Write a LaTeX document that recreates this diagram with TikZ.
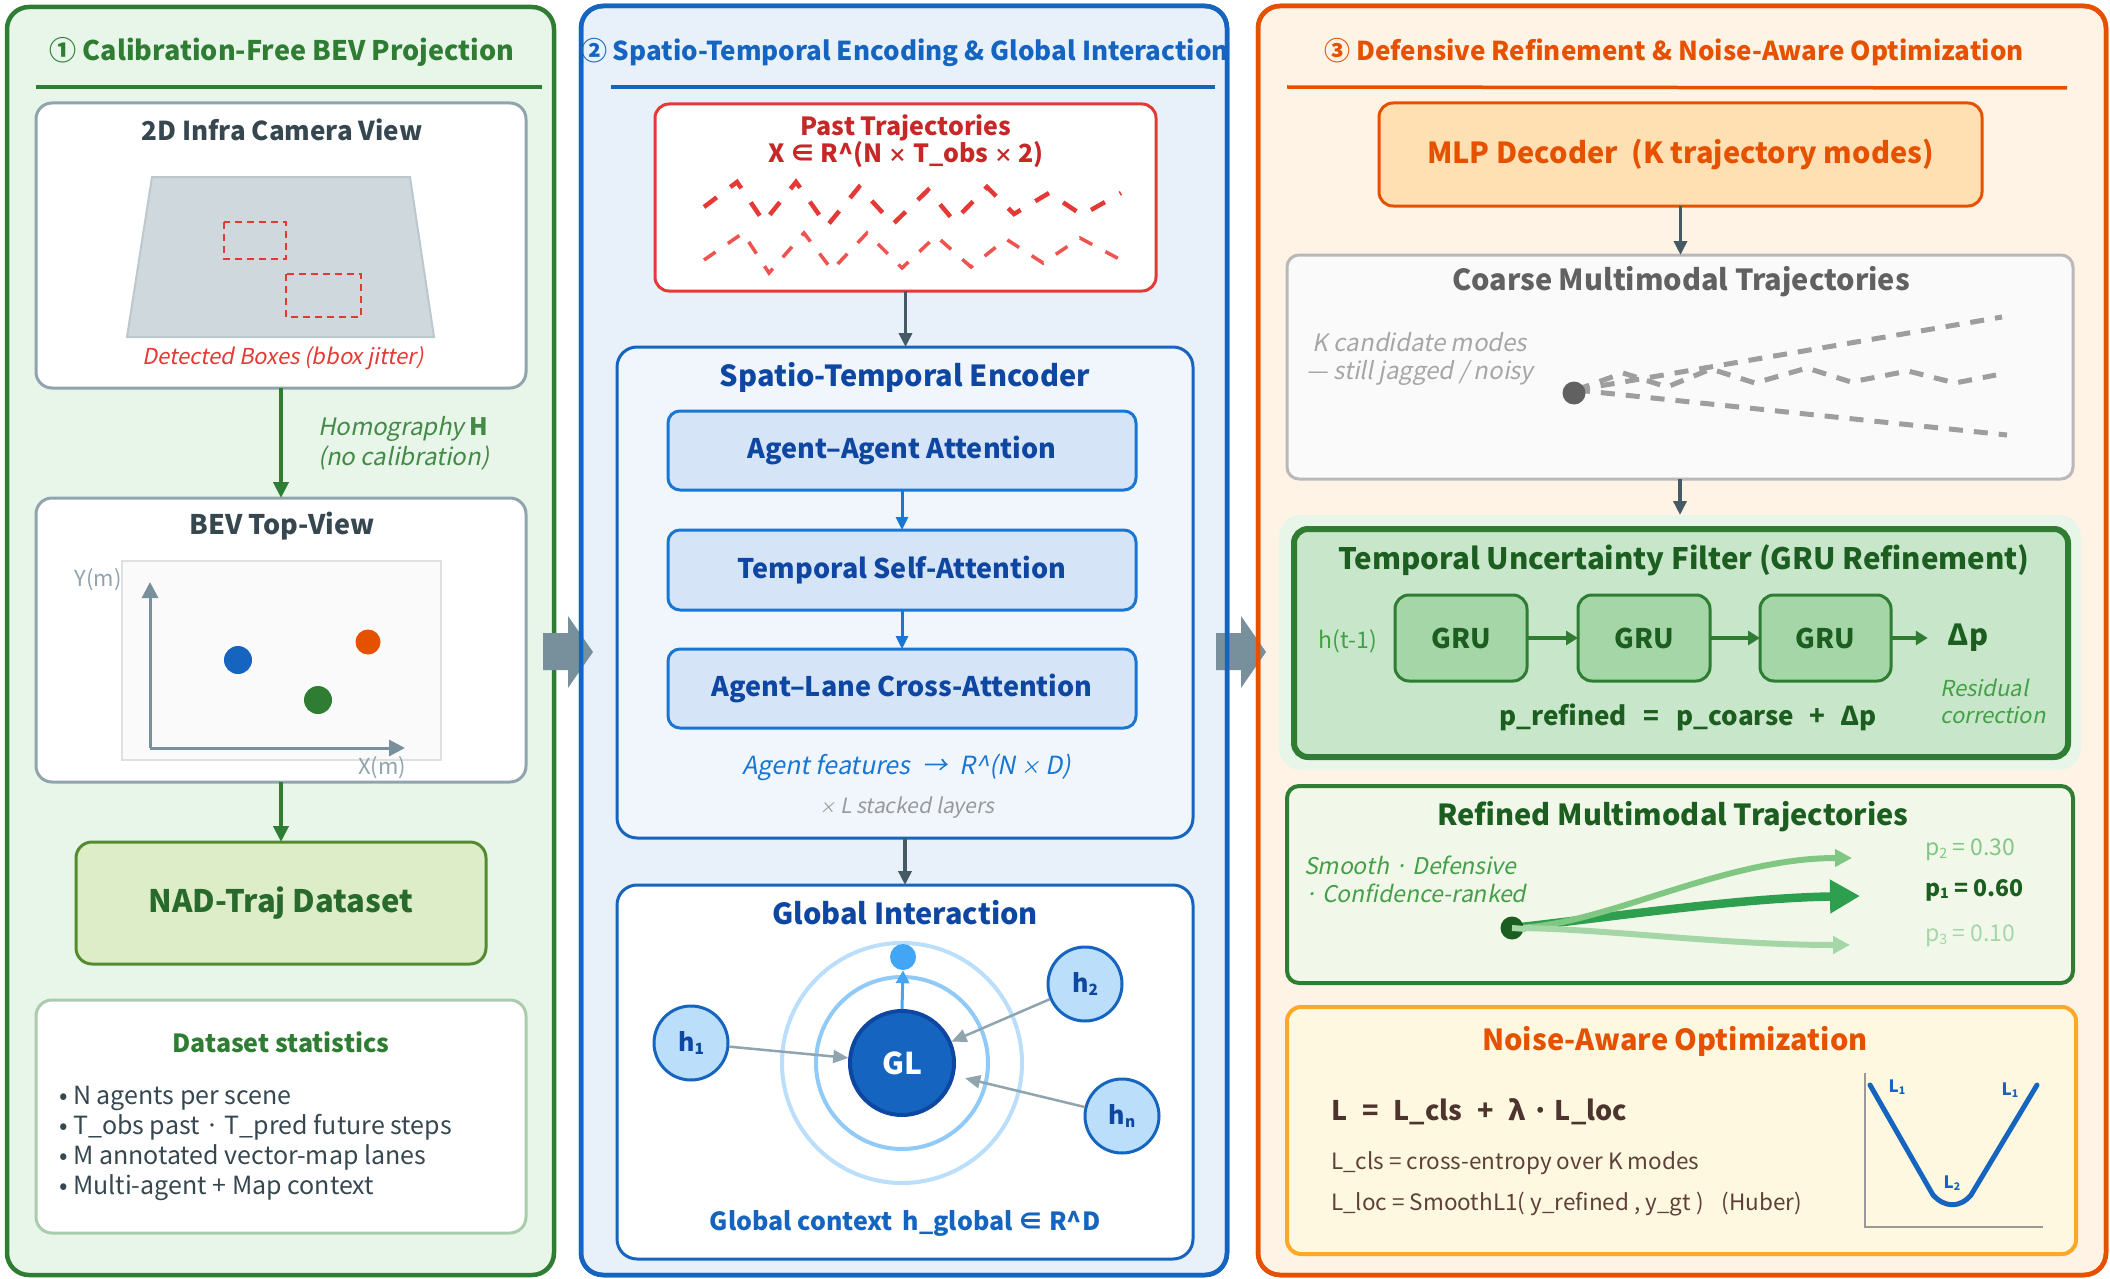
\documentclass[tikz,border=0pt]{standalone}
\usepackage{fontspec}
\setmainfont{Noto Sans CJK KR}[AutoFakeSlant=0.2]
\newfontfamily\slantfam{Noto Sans CJK KR}[BoldFeatures={FakeSlant=0.2}]
\usetikzlibrary{arrows.meta}
\definecolor{g1}{HTML}{2E7D32}
\definecolor{g1bg}{HTML}{E8F5E9}
\definecolor{gdk}{HTML}{1B5E20}
\definecolor{gmid}{HTML}{43A047}
\definecolor{gcell}{HTML}{A5D6A7}
\definecolor{gbox}{HTML}{C8E6C9}
\definecolor{gup}{HTML}{81C784}
\definecolor{glow}{HTML}{A5D6A7}
\definecolor{gmain}{HTML}{2E9E4F}
\definecolor{nadfill}{HTML}{DCEDC8}
\definecolor{nadline}{HTML}{558B2F}
\definecolor{b1}{HTML}{1565C0}
\definecolor{b2}{HTML}{0D47A1}
\definecolor{b3}{HTML}{1976D2}
\definecolor{b1bg}{HTML}{E8F0FA}
\definecolor{hfill}{HTML}{BBDEFB}
\definecolor{ringA}{HTML}{BBDEFB}
\definecolor{ringB}{HTML}{90CAF9}
\definecolor{dotblue}{HTML}{42A5F5}
\definecolor{encfill}{HTML}{F1F6FD}
\definecolor{attfill}{HTML}{D6E4F7}
\definecolor{o1}{HTML}{E65100}
\definecolor{o1bg}{HTML}{FFF3E6}
\definecolor{mlpfill}{HTML}{FFE0B2}
\definecolor{noisefill}{HTML}{FFF8E1}
\definecolor{noiseline}{HTML}{FFA726}
\definecolor{refdfill}{HTML}{F1F8E9}
\definecolor{blockgray}{HTML}{78909C}
\definecolor{slate}{HTML}{37474F}
\definecolor{arrowdk}{HTML}{455A64}
\definecolor{bordergray}{HTML}{90A4AE}
\definecolor{trapfill}{HTML}{CFD8DC}
\definecolor{redA}{HTML}{E53935}
\definecolor{redB}{HTML}{EF5350}
\definecolor{redD}{HTML}{C62828}
\definecolor{brownA}{HTML}{4E342E}
\definecolor{brownB}{HTML}{5D4037}
\newcommand\fs[2]{\fontsize{#1}{#2}\selectfont}
\newcommand\sbs[1]{\raisebox{-0.1em}{\scalebox{0.62}{#1}}}
\newcommand\tms{\scalebox{0.75}{×}}
\tikzset{
  panel/.style={draw, line width=4.5pt, rounded corners=22pt, inner sep=0pt, outer sep=0pt},
  card/.style={draw, line width=3pt, rounded corners=16pt, inner sep=0pt, outer sep=0pt},
  txt/.style={inner sep=0pt, outer sep=0pt},
  darr/.style={draw=arrowdk, line width=3.5pt, -{Triangle[length=14pt,width=13pt]}},
  garr/.style={draw=g1, line width=4pt, -{Triangle[length=16pt,width=15pt]}},
  barr/.style={draw=b3, line width=3pt, -{Triangle[length=13pt,width=12pt]}},
  harr/.style={draw=bordergray, line width=2.5pt, -{Triangle[length=15pt,width=13pt]}},
  gruarr/.style={draw=g1, line width=4pt, -{Triangle[length=12pt,width=14pt]}},
  hnode/.style={circle, minimum size=74pt, inner sep=0pt, fill=hfill, draw=b1, line width=3pt, text=b2, font=\bfseries\fs{25}{30}},
  pdashA/.style={draw=redA, line width=4.5pt, dash pattern=on 16pt off 17pt},
  pdashB/.style={draw=redB, line width=3.5pt, dash pattern=on 14pt off 15pt},
  cdash/.style={draw=black!38, line width=5pt, dash pattern=on 14pt off 11pt},
}
\begin{document}
\begin{tikzpicture}[x=1pt,y=-1pt]
\useasboundingbox (0,0) rectangle (2110,1279);
\fill[white] (0,0) rectangle (2110,1279);

% ---------- panels ----------
\node[panel, draw=g1, fill=g1bg, minimum width=547pt, minimum height=1268pt] (P1) at (280.5,641) {};
\node[panel, draw=b1, fill=b1bg, minimum width=646pt, minimum height=1269pt] (P2) at (904,640.5) {};
\node[panel, draw=o1, fill=o1bg, minimum width=848pt, minimum height=1269pt] (P3) at (1682,640.5) {};

% block arrows between panels
\fill[blockgray] (543,633) -- (568,633) -- (568,616) -- (593,652) -- (568,688) -- (568,670) -- (543,670) -- cycle;
\fill[blockgray] (1216,633) -- (1241,633) -- (1241,616) -- (1266,652) -- (1241,688) -- (1241,670) -- (1216,670) -- cycle;
\draw[draw=b1, line width=4.5pt, rounded corners=22pt] (P2.north west) rectangle (P2.south east);
\draw[draw=o1, line width=4.5pt, rounded corners=22pt] (P3.north west) rectangle (P3.south east);

% ---------- panel 1 ----------
\node[txt, text=g1, font=\bfseries\fs{27}{32}] (t1) at (282,52) {① Calibration-Free BEV Projection};
\draw[g1, line width=3.5pt] (36,87) -- (542,87);

\node[card, draw=bordergray, fill=white, minimum width=490pt, minimum height=285pt] (cam) at (281,245.5) {};
\node[txt, text=slate, font=\bfseries\fs{26}{30}] (camt) at (282,130) {2D Infra Camera View};
\filldraw[fill=trapfill, draw=bordergray!60!white, line width=2pt] (152,177) -- (410,177) -- (434,337) -- (127,337) -- cycle;
\draw[redA, line width=2.5pt, dash pattern=on 7pt off 5pt] (224,222) rectangle (286,259);
\draw[redA, line width=2.5pt, dash pattern=on 7pt off 5pt] (286,274) rectangle (361,317);
\node[txt, text=redA, font=\itshape\fs{22}{26}] (camc) at (283,358) {Detected Boxes (bbox jitter)};

\node[card, draw=bordergray, fill=white, minimum width=490pt, minimum height=284pt] (bev) at (281,640) {};
\draw[garr] (cam.south) -- (bev.north);
\node[txt, anchor=west, align=left, text=g1!90!white, font=\itshape\fs{24}{30}] (homo) at (318,443) {Homography {\slantfam\bfseries H}\\(no calibration)};
\node[txt, text=slate, font=\bfseries\fs{27}{30}] (bevt) at (282,526) {BEV Top-View};
\filldraw[fill=black!2!white, draw=black!12, line width=2pt] (122,561) rectangle (441,760);
\coordinate (orig) at (150,748);
\coordinate (ytop) at (150,582);
\coordinate (xend) at (405,748);
\draw[blockgray, line width=3pt, -{Triangle[length=16pt,width=16pt]}] (orig) -- (ytop);
\draw[blockgray, line width=3pt, -{Triangle[length=16pt,width=16pt]}] (orig) -- (xend);
\node[txt, text=bordergray, font=\fs{22}{26}] (ylab) at (98,580) {Y(m)};
\node[txt, text=bordergray, font=\fs{22}{26}] (xlab) at (382,768) {X(m)};
\fill[b1] (238,660) circle[radius=14pt];
\fill[o1] (368,642) circle[radius=12.5pt];
\fill[g1] (318,700) circle[radius=14pt];

\node[card, draw=nadline, fill=nadfill, minimum width=410pt, minimum height=122pt] (nad) at (281,903) {};
\node[txt, text=g1!85!black, font=\bfseries\fs{31}{36}] (nadt) at (281,903) {NAD-Traj Dataset};
\draw[garr] (bev.south) -- (nad.north);

\node[card, draw=g1!40!white, fill=white, minimum width=490pt, minimum height=233pt] (stats) at (281,1116.5) {};
\node[txt, text=g1, font=\bfseries\fs{25}{30}] (statst) at (281,1042) {Dataset statistics};
\node[txt, anchor=west, align=left, text=slate, font=\fs{25}{30}] (statsl) at (59,1143) {• N agents per scene\\• T\_obs past · T\_pred future steps\\• M annotated vector-map lanes\\• Multi-agent + Map context};

% ---------- panel 2 ----------
\node[txt, text=b1, font=\bfseries\fs{26}{32}] (t2) at (905,52) {② Spatio-Temporal Encoding \& Global Interaction};
\draw[b1, line width=3.5pt] (611,87) -- (1215,87);

\node[card, draw=redA, fill=white, rounded corners=14pt, minimum width=501pt, minimum height=187pt] (past) at (905.5,197.5) {};
\node[txt, text=redD, align=center, font=\bfseries\fs{25}{26}] (pastt) at (906,141) {Past Trajectories\\X ∈ R\textasciicircum(N \tms{} T\_obs \tms{} 2)};
\draw[pdashA] (704,207) -- (737,182) -- (764,222) -- (796,182) -- (827,226) -- (859,187) -- (893,224) -- (928,190) -- (954,221) -- (987,187) -- (1014,214) -- (1049,193) -- (1082,215) -- (1121,193);
\draw[pdashB] (704,260) -- (743,233) -- (769,273) -- (804,233) -- (832,270) -- (867,233) -- (902,268) -- (936,236) -- (971,267) -- (1006,239) -- (1043,263) -- (1080,238) -- (1121,260);

\node[card, draw=b1, fill=encfill, rounded corners=20pt, minimum width=576pt, minimum height=491pt] (enc) at (905,592.5) {};
\draw[darr] (past.south) -- (past.south |- enc.north);
\node[txt, text=b2, font=\bfseries\fs{29}{32}] (enct) at (905,377) {Spatio-Temporal Encoder};
\node[card, draw=b3, fill=attfill, rounded corners=12pt, minimum width=468pt, minimum height=79pt, text=b2, font=\bfseries\fs{27}{30}] (aa) at (902,450.5) {Agent–Agent Attention};
\node[card, draw=b3, fill=attfill, rounded corners=12pt, minimum width=468pt, minimum height=80pt, text=b2, font=\bfseries\fs{27}{30}] (ts) at (902,570) {Temporal Self-Attention};
\node[card, draw=b3, fill=attfill, rounded corners=12pt, minimum width=468pt, minimum height=79pt, text=b2, font=\bfseries\fs{27}{30}] (al) at (902,688.5) {Agent–Lane Cross-Attention};
\draw[barr] (aa.south) -- (ts.north);
\draw[barr] (ts.south) -- (al.north);
\node[txt, text=b3, font=\itshape\fs{25}{28}] (feat) at (907,767) {Agent features\hspace{12pt}→\hspace{12pt}R\textasciicircum(N \tms{} D)};
\node[txt, text=black!40, font=\itshape\fs{21}{24}] (layers) at (907,808) {\tms{} L stacked layers};

\node[card, draw=b1, fill=white, rounded corners=20pt, minimum width=576pt, minimum height=374pt] (glob) at (905,1072) {};
\draw[darr] (enc.south) -- (glob.north);
\node[txt, text=b2, font=\bfseries\fs{29}{32}] (globt) at (905,913) {Global Interaction};
\coordinate (gc) at (902,1063);
\draw[draw=ringA, line width=4pt] (gc) circle[radius=120pt];
\draw[draw=ringB, line width=4pt] (gc) circle[radius=86pt];
\node[circle, minimum size=26pt, inner sep=0pt, fill=dotblue] (gdot) at (903,957) {};
\node[circle, minimum size=104pt, inner sep=0pt, fill=b1, draw=b2, line width=4pt, text=white, font=\bfseries\fs{30}{32}] (GL) at (gc) {GL};
\draw[draw=dotblue, line width=3pt, -{Triangle[length=13pt,width=13pt]}] (GL.north) -- (gdot.south);
\node[hnode] (h1) at (691,1043) {h\sbs{1}};
\node[hnode] (h2) at (1085,984) {h\sbs{2}};
\node[hnode] (hn) at (1122,1116) {h\sbs{n}};
\draw[harr] (h1) -- (GL);
\draw[harr] (h2) -- (GL);
\draw[harr, shorten >=11pt] (hn) -- (GL);
\node[txt, text=b1, font=\bfseries\fs{25}{28}] (gctx) at (905,1223) {Global context\hspace{10pt}h\_global ∈ R\textasciicircum D};

% ---------- panel 3 ----------
\node[txt, text=o1, font=\bfseries\fs{26}{32}] (t3) at (1674,52) {③ Defensive Refinement \& Noise-Aware Optimization};
\draw[o1, line width=3.5pt] (1287,87) -- (2067,88);

\node[card, draw=o1, fill=mlpfill, rounded corners=14pt, minimum width=603pt, minimum height=103pt, text=o1, font=\bfseries\fs{29}{32}] (mlp) at (1680.5,154.5) {MLP Decoder\hspace{14pt}(K trajectory modes)};

\node[card, draw=black!28, fill=black!2, rounded corners=12pt, minimum width=786pt, minimum height=224pt] (coarse) at (1680,367) {};
\draw[darr] (mlp.south) -- (mlp.south |- coarse.north);
\node[txt, text=black!62, font=\bfseries\fs{29}{32}] (coarset) at (1681,282) {Coarse Multimodal Trajectories};
\node[txt, align=center, text=black!35, font=\itshape\fs{24}{28}] (kcand) at (1420,359) {K candidate modes\\— still jagged / noisy};
\coordinate (cstart) at (1576,390);
\draw[cdash] (cstart) -- (2002,317);
\draw[cdash] (cstart) -- (1623,373) -- (1667,387) -- (1711,369) -- (1755,383) -- (1807,368) -- (1851,382) -- (1908,371) -- (1955,383) -- (1996,375);
\draw[cdash] (cstart) -- (2007,435);
\node[circle, minimum size=23pt, inner sep=0pt, fill=black!62] (cdot) at (1574,393) {};

\node[fill=g1bg, rounded corners=22pt, minimum width=802pt, minimum height=255pt, inner sep=0pt, outer sep=0pt] (gruback) at (1680,642.5) {};
\draw[darr] (coarse.south) -- (gruback.north);
\node[draw=g1, line width=6pt, fill=gbox, rounded corners=14pt, minimum width=774pt, minimum height=228pt, inner sep=0pt, outer sep=0pt] (gru) at (1681,643) {};
\node[txt, text=gdk, font=\bfseries\fs{29.5}{32}] (grut) at (1684,560) {Temporal Uncertainty Filter (GRU Refinement)};
\node[card, draw=g1, fill=gcell, rounded corners=14pt, minimum width=132pt, minimum height=86pt, text=gdk, font=\bfseries\fs{27}{30}] (gr1) at (1461,638) {GRU};
\node[card, draw=g1, fill=gcell, rounded corners=14pt, minimum width=132pt, minimum height=86pt, text=gdk, font=\bfseries\fs{27}{30}] (gr2) at (1644,638) {GRU};
\node[card, draw=g1, fill=gcell, rounded corners=14pt, minimum width=131pt, minimum height=86pt, text=gdk, font=\bfseries\fs{27}{30}] (gr3) at (1825.5,638) {GRU};
\node[txt, text=gmid, font=\fs{23}{26}] (hprev) at (1348,641) {h(t-1)};
\node[txt, text=gdk, font=\bfseries\fs{29}{32}] (dp) at (1968,638) {Δp};
\draw[gruarr] (gr1.east) -- (gr2.west);
\draw[gruarr] (gr2.east) -- (gr3.west);
\draw[gruarr, shorten >=20pt] (gr3.east) -- (dp.west);
\node[txt, text=gdk, font=\bfseries\fs{26}{30}] (eq) at (1688,717) {p\_refined\hspace{17pt}=\hspace{17pt}p\_coarse\hspace{15pt}+\hspace{15pt}Δp};
\node[txt, align=left, text=gmid, font=\itshape\fs{22}{27}] (resid) at (1993,701) {Residual\\correction};

\node[card, draw=g1, line width=4pt, fill=refdfill, rounded corners=12pt, minimum width=786pt, minimum height=197pt] (refd) at (1680,884.5) {};
\node[txt, text=gdk, font=\bfseries\fs{29}{32}] (refdt) at (1673,817) {Refined Multimodal Trajectories};
\node[txt, anchor=west, align=left, text=gmid, font=\itshape\fs{23}{28}] (smooth) at (1304,879) {Smooth · Defensive\\· Confidence-ranked};
\coordinate (rstart) at (1512,928);
\draw[draw=gmain, line width=8.5pt, -{Triangle[length=30pt,width=32pt]}] (rstart) .. controls (1620,916) and (1740,898) .. (1860,896);
\draw[draw=gup, line width=6pt, -{Triangle[length=17pt,width=17pt]}] (rstart) .. controls (1600,928) and (1720,858) .. (1852,858);
\draw[draw=glow, line width=6pt, -{Triangle[length=17pt,width=17pt]}] (rstart) .. controls (1600,928) and (1720,945) .. (1850,945);
\node[circle, minimum size=23pt, inner sep=0pt, fill=gdk] (rdot) at (rstart) {};
\draw[draw=glow, line width=6pt] (rdot.center) -- ++(14,1);
\node[txt, anchor=west, text=gup, font=\fs{23}{26}] (pr2) at (1925,850) {p\sbs{2} = 0.30};
\node[txt, anchor=west, text=gdk, font=\bfseries\fs{23}{26}] (pr1) at (1925,890) {p\sbs{1} = 0.60};
\node[txt, anchor=west, text=glow, font=\fs{23}{26}] (pr3) at (1925,936) {p\sbs{3} = 0.10};

\node[card, draw=noiseline, line width=4pt, fill=noisefill, rounded corners=14pt, minimum width=789pt, minimum height=247pt] (noise) at (1681.5,1130.5) {};
\node[txt, text=o1, font=\bfseries\fs{29}{32}] (noiset) at (1675,1041) {Noise-Aware Optimization};
\node[txt, anchor=west, text=brownA, font=\bfseries\fs{27}{30}] (leq) at (1331,1112) {L\hspace{15pt}=\hspace{15pt}L\_cls\hspace{15pt}+\hspace{15pt}λ · L\_loc};
\node[txt, anchor=west, text=brownB, font=\fs{22.5}{26}] (lcls) at (1331,1163) {L\_cls = cross-entropy over K modes};
\node[txt, anchor=west, text=brownB, font=\fs{22.5}{26}] (lloc) at (1331,1204) {L\_loc = SmoothL1( y\_refined , y\_gt )\hspace{18pt}(Huber)};
\draw[draw=black!40, line width=2.5pt] (1865,1073) -- (1865,1227) -- (2043,1227);
\draw[draw=b1, line width=5pt, line join=round, line cap=round] (1870,1085) -- (1933,1195) .. controls (1945,1208) and (1960,1208) .. (1971,1195) -- (2037,1085);
\node[txt, text=b1, font=\bfseries\fs{17}{20}] (l1a) at (1897,1087) {L\sbs{1}};
\node[txt, text=b1, font=\bfseries\fs{17}{20}] (l1b) at (2010,1090) {L\sbs{1}};
\node[txt, text=b1, font=\bfseries\fs{17}{20}] (l2) at (1952,1183) {L\sbs{2}};
\end{tikzpicture}
\end{document}
